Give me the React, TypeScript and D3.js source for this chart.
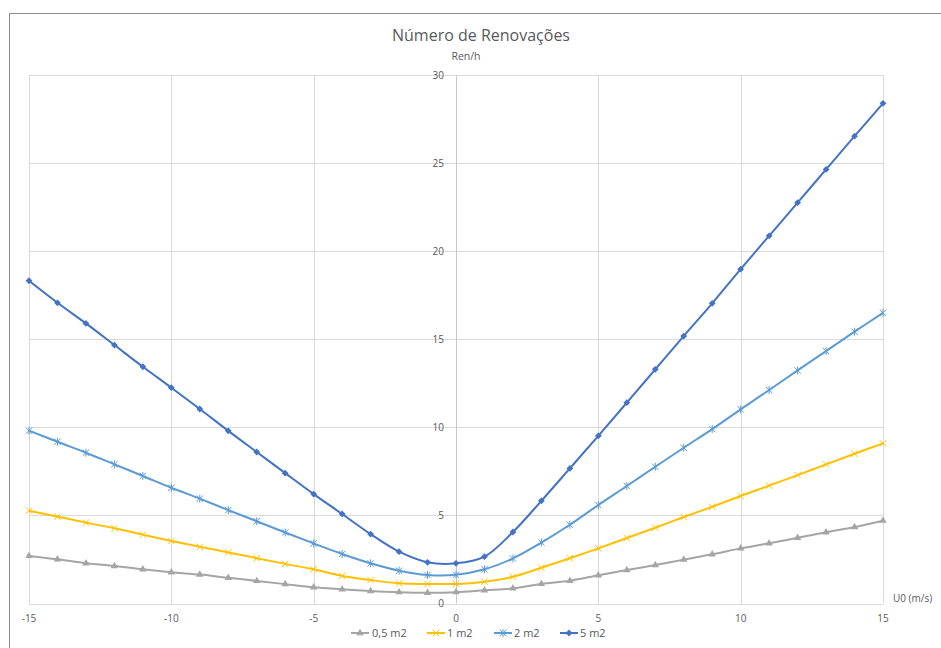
import React from "react";
import * as d3 from "d3";

const xValues = [-15,-14,-13,-12,-11,-10,-9,-8,-7,-6,-5,-4,-3,-2,-1,0,1,2,3,4,5,6,7,8,9,10,11,12,13,14,15];
const s05 = [2.70,2.51,2.28,2.13,1.94,1.77,1.64,1.46,1.28,1.10,0.92,0.81,0.71,0.64,0.61,0.64,0.75,0.86,1.11,1.29,1.60,1.90,2.18,2.49,2.79,3.13,3.42,3.73,4.04,4.34,4.70];
const s1 = [5.27,4.93,4.59,4.27,3.91,3.55,3.22,2.90,2.57,2.25,1.94,1.56,1.33,1.15,1.11,1.11,1.24,1.52,2.03,2.57,3.13,3.72,4.30,4.91,5.49,6.10,6.69,7.29,7.90,8.50,9.09];
const s2 = [9.81,9.18,8.56,7.90,7.24,6.57,5.95,5.30,4.67,4.03,3.41,2.81,2.28,1.86,1.62,1.63,1.94,2.56,3.46,4.47,5.59,6.67,7.76,8.84,9.90,11.02,12.12,13.23,14.33,15.43,16.50];
const s5 = [18.32,17.07,15.90,14.67,13.44,12.25,11.04,9.80,8.60,7.40,6.21,5.08,3.94,2.94,2.34,2.28,2.66,4.06,5.83,7.67,9.52,11.40,13.29,15.18,17.04,18.98,20.87,22.75,24.64,26.53,28.39];
const seriesNames = ["0,5 m2", "1 m2", "2 m2", "5 m2"];
const xTicks = [-15,-10,-5,0,5,10,15];
const yTicks = [0,5,10,15,20,25,30];

const colors = ["#A5A5A5", "#FFC000", "#5B9BD5", "#4472C4"];
const markerKinds = ["triangle", "x", "star", "diamond"];
const FONT = "'Open Sans', 'Liberation Sans', sans-serif";
const TXT = "#595959";

function Marker({ kind, x, y, color }: { kind: string; x: number; y: number; color: string }) {
  if (kind === "triangle") {
    return <path d={d3.symbol(d3.symbolTriangle, 24)() as string} transform={`translate(${x},${y})`} fill={color} />;
  }
  if (kind === "diamond") {
    const r = 3.4;
    return <path d={`M${x},${y - r}L${x + r},${y}L${x},${y + r}L${x - r},${y}Z`} fill={color} />;
  }
  const r = 3.2;
  return (
    <g stroke={color} strokeWidth={1}>
      <line x1={x - r} y1={y - r} x2={x + r} y2={y + r} />
      <line x1={x - r} y1={y + r} x2={x + r} y2={y - r} />
      {kind === "star" && <line x1={x} y1={y - r - 0.8} x2={x} y2={y + r + 0.8} />}
    </g>
  );
}

export default function App() {
  const W = 941, H = 648;
  const x = d3.scaleLinear().domain([-15, 15]).range([29, 883]);
  const y = d3.scaleLinear().domain([0, 30]).range([603.5, 75]);
  const allSeries = [s05, s1, s2, s5];
  const line = d3.line<number>().x((_, i) => x(xValues[i])).y(d => y(d)).curve(d3.curveCatmullRom.alpha(0.5));

  const legendItems = [
    { lx: 351, tx: 372 },
    { lx: 427, tx: 447 },
    { lx: 494, tx: 514 },
    { lx: 560, tx: 580 },
  ];

  return (
    <svg width={W} height={H} style={{ position: "absolute", left: 0, top: 0, background: "#fff" }} fontFamily={FONT}>
      <rect x={0} y={0} width={W} height={H} fill="#fff" />
      {/* outer chart frame */}
      <line x1={9.5} y1={13.5} x2={W} y2={13.5} stroke="#8c8c8c" strokeWidth={1} />
      <line x1={9.5} y1={13.5} x2={9.5} y2={H} stroke="#8c8c8c" strokeWidth={1} />

      {/* gridlines */}
      {yTicks.map(t => (
        <line key={"gy" + t} x1={x(-15)} x2={x(15)} y1={Math.round(y(t)) + 0.5} y2={Math.round(y(t)) + 0.5} stroke="#d9d9d9" strokeWidth={1} />
      ))}
      {xTicks.map(t => (
        <line key={"gx" + t} x1={Math.round(x(t)) + 0.5} x2={Math.round(x(t)) + 0.5} y1={y(30)} y2={y(0)} stroke={t === 0 ? "#c8c8c8" : "#d9d9d9"} strokeWidth={1} />
      ))}

      {/* title */}
      <text x={481} y={41} textAnchor="middle" fontSize={16} fill={TXT}>Número de Renovações</text>
      <text x={466} y={60} textAnchor="middle" fontSize={10.5} fill={TXT}>Ren/h</text>

      {/* y tick labels */}
      {yTicks.map(t => (
        <text key={"yl" + t} x={x(0) - 12} y={y(t) + 3.5} textAnchor="end" fontSize={10} fill={TXT}>{t}</text>
      ))}
      {/* x tick labels */}
      {xTicks.map(t => (
        <text key={"xl" + t} x={x(t)} y={622} textAnchor="middle" fontSize={10} fill={TXT}>{t}</text>
      ))}
      <text x={893} y={602} fontSize={10} fill={TXT}>U0 (m/s)</text>

      {/* series */}
      {allSeries.map((s, si) => (
        <g key={"s" + si}>
          <path d={line(s) as string} fill="none" stroke={colors[si]} strokeWidth={2} strokeLinejoin="round" />
          {s.map((v, i) => (
            <Marker key={i} kind={markerKinds[si]} x={x(xValues[i])} y={y(v)} color={colors[si]} />
          ))}
        </g>
      ))}

      {/* legend */}
      {seriesNames.map((n, i) => (
        <g key={"lg" + i}>
          <line x1={legendItems[i].lx} x2={legendItems[i].lx + 18} y1={633} y2={633} stroke={colors[i]} strokeWidth={2} />
          <Marker kind={markerKinds[i]} x={legendItems[i].lx + 9} y={633} color={colors[i]} />
          <text x={legendItems[i].tx} y={637} fontSize={11} fill={TXT}>{n}</text>
        </g>
      ))}
    </svg>
  );
}
